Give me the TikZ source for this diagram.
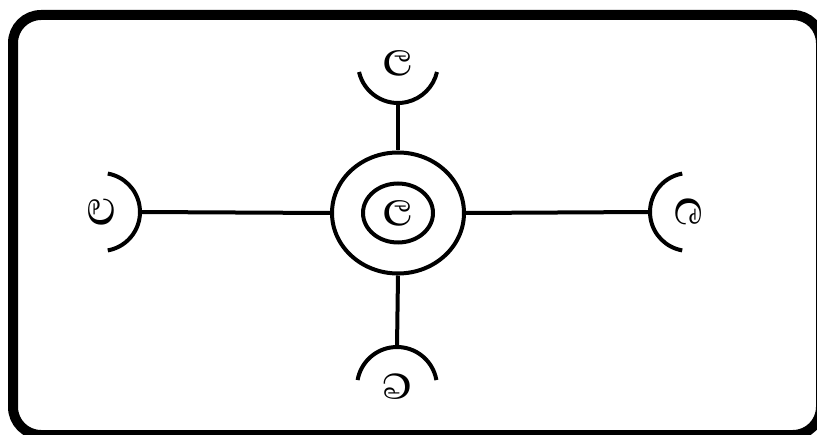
\documentclass[tikz,border=0pt]{standalone}
\usepackage{fontspec}
\usetikzlibrary{shapes.geometric}
\newfontfamily\sinhfont[Script=Sinhala]{Abhaya Libre}
\tikzset{
  glyph/.style={font=\sinhfont\fontsize{46}{46}\selectfont\bfseries, inner sep=0pt},
  wire/.style={line width=4pt},
  frame/.style={line width=10pt, rounded corners=28pt},
}
\begin{document}
\begin{tikzpicture}[x=1pt,y=1pt]
\useasboundingbox (0,0) rectangle (817,434);
\fill[white] (0,0) rectangle (817,434);
\clip (0,0) rectangle (817,434);
\draw[frame] (13,-1) rectangle (821,419);
% centre
\node[ellipse, draw, wire, minimum width=132pt, minimum height=121pt, inner sep=0pt] (hub) at (398,221) {};
\node[ellipse, draw, wire, minimum width=70pt, minimum height=59pt, inner sep=0pt] (core) at (398,221) {};
\node[glyph] (cg) at (398,221) {ල};
% outer labels
\node[glyph] (tg) at (398,371) {ල};
\node[glyph, rotate=90] (lg) at (101,222) {ල};
\node[glyph, rotate=-90] (rg) at (689,222) {ල};
\node[glyph, rotate=180] (bg) at (397,47) {ල};
% cups
\draw[wire] (tg.center) ++(193:40) arc[start angle=193, end angle=347, radius=40];
\draw[wire] (lg.center) ++(-80:39) arc[start angle=-80, end angle=80, radius=39];
\draw[wire] (rg.center) ++(100:39) arc[start angle=100, end angle=260, radius=39];
\draw[wire] (bg.center) ++(10:40) arc[start angle=10, end angle=170, radius=40];
\coordinate (tc) at ([yshift=-40pt]tg.center);
\coordinate (lc) at ([xshift=39pt]lg.center);
\coordinate (rc) at ([xshift=-39pt]rg.center);
\coordinate (bc) at ([yshift=40pt]bg.center);
% connectors
\draw[wire] (tc) -- (hub.north);
\draw[wire] (lc) -- (hub.west);
\draw[wire] (rc) -- (hub.east);
\draw[wire] (bc) -- (hub.south);
\end{tikzpicture}
\end{document}
